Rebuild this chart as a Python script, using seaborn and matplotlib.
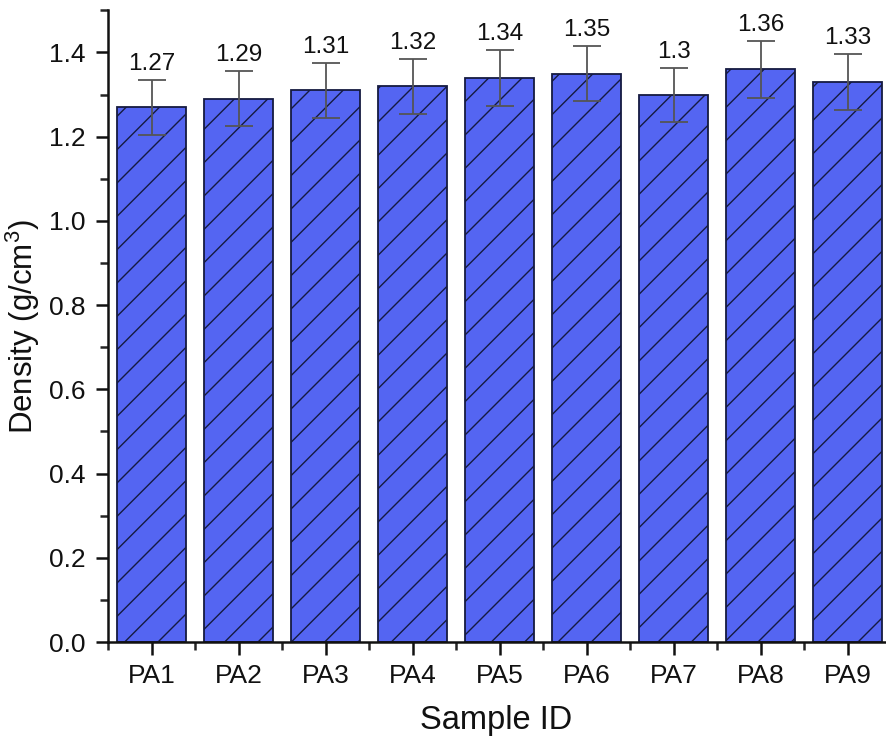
import matplotlib
matplotlib.use("Agg")
import matplotlib.pyplot as plt
import seaborn as sns
import pandas as pd
from matplotlib.ticker import MultipleLocator, FixedLocator

samples = ["PA1", "PA2", "PA3", "PA4", "PA5", "PA6", "PA7", "PA8", "PA9"]
density = [1.27, 1.29, 1.31, 1.32, 1.34, 1.35, 1.30, 1.36, 1.33]
errors = [0.065, 0.065, 0.065, 0.065, 0.066, 0.066, 0.064, 0.067, 0.066]
labels = ["1.27", "1.29", "1.31", "1.32", "1.34", "1.35", "1.3", "1.36", "1.33"]

df = pd.DataFrame({"Sample": samples, "Density": density})

sns.set_style("ticks")
plt.rcParams["font.family"] = ["Liberation Sans", "DejaVu Sans"]
plt.rcParams["mathtext.fontset"] = "custom"
plt.rcParams["mathtext.rm"] = "Liberation Sans"
plt.rcParams["mathtext.it"] = "Liberation Sans:italic"
plt.rcParams["mathtext.default"] = "regular"
plt.rcParams["hatch.color"] = "#1a2270"
plt.rcParams["hatch.linewidth"] = 1.0

fig = plt.figure(figsize=(8.87, 7.38), dpi=100)
ax = fig.add_axes([0.1218, 0.130, 0.876, 0.856])

sns.barplot(data=df, x="Sample", y="Density", color="#5465f2", saturation=1,
            width=0.8, edgecolor="#151a40", linewidth=1.3, hatch="/", ax=ax, errorbar=None)

ax.errorbar(x=list(range(len(samples))), y=density, yerr=errors, fmt="none",
            ecolor="#555555", elinewidth=1.3, capsize=10, capthick=1.3, zorder=5)

for i, (v, e, lab) in enumerate(zip(density, errors, labels)):
    ax.text(i, v + e + 0.012, lab, ha="center", va="bottom", fontsize=17.5, color="#111111")

ax.set_ylim(0, 1.5)
ax.set_xlim(-0.5, 8.43)
ax.yaxis.set_major_locator(FixedLocator([0, 0.2, 0.4, 0.6, 0.8, 1.0, 1.2, 1.4]))
ax.yaxis.set_minor_locator(MultipleLocator(0.1))
ax.xaxis.set_minor_locator(FixedLocator([i + 0.5 for i in range(-1, 9)]))
ax.set_yticklabels(["0.0", "0.2", "0.4", "0.6", "0.8", "1.0", "1.2", "1.4"])

ax.tick_params(axis="both", which="major", direction="out", length=9, width=1.8,
               labelsize=19, colors="#111111", pad=7)
ax.tick_params(axis="both", which="minor", direction="out", length=5.5, width=1.8)

for s in ["top", "right"]:
    ax.spines[s].set_visible(False)
for s in ["left", "bottom"]:
    ax.spines[s].set_linewidth(1.8)
    ax.spines[s].set_color("#111111")

ax.set_xlabel("Sample ID", fontsize=23.5, labelpad=12, color="#111111")
ax.set_ylabel("Density (g/cm$^3$)", fontsize=22.5, labelpad=5, color="#111111")

fig.savefig("out.png", dpi=100)
